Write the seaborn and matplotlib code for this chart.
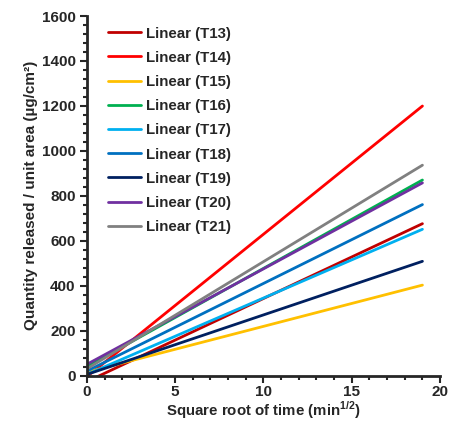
import numpy as np
import pandas as pd
import matplotlib
matplotlib.use('Agg')
import matplotlib.pyplot as plt
from matplotlib.ticker import MultipleLocator
import seaborn as sns

# Fitted linear release lines
series = ['T13', 'T14', 'T15', 'T16', 'T17', 'T18', 'T19', 'T20', 'T21']
slopes = [37.0, 63.4, 20.4, 43.7, 34.0, 39.0, 26.5, 42.5, 47.7]
intercepts = [-27.0, -5.0, 15.0, 40.0, 5.0, 20.0, 5.0, 50.0, 30.0]
x_range = [0, 19]
colors = ['#C00000', '#FF0000', '#FFC000', '#00B050', '#00B0F0',
          '#0070C0', '#002060', '#7030A0', '#808080']

sns.set_style('ticks')
plt.rcParams['font.family'] = ['Liberation Sans', 'DejaVu Sans']
plt.rcParams['font.weight'] = 'bold'
plt.rcParams['mathtext.fontset'] = 'custom'
plt.rcParams['mathtext.rm'] = 'Liberation Sans:bold'
plt.rcParams['mathtext.bf'] = 'Liberation Sans:bold'

# Building long table
rows = []
for s, m, b in zip(series, slopes, intercepts):
    for x in x_range:
        rows.append({'x': x, 'y': m * x + b, 'name': 'Linear (' + s + ')'})
df = pd.DataFrame(rows)

fig = plt.figure(figsize=(4.5, 4.22), dpi=100)
ax = fig.add_axes([0.193, 0.11, 0.785, 0.852])

sns.lineplot(data=df, x='x', y='y', hue='name',
             palette=dict(zip(df['name'].unique(), colors)),
             linewidth=2, ax=ax)

ax.set_xlim(0, 20)
ax.set_ylim(0, 1600)
ax.xaxis.set_major_locator(MultipleLocator(5))
ax.xaxis.set_minor_locator(MultipleLocator(1))
ax.yaxis.set_major_locator(MultipleLocator(200))
ax.yaxis.set_minor_locator(MultipleLocator(40))
ax.tick_params(which='major', length=5, width=1.5, labelsize=11, pad=3)
ax.tick_params(axis='x', which='major', pad=2)
ax.tick_params(which='minor', length=3, width=1.5)
for side in ['left', 'bottom']:
    ax.spines[side].set_linewidth(2)
sns.despine(ax=ax)

ax.set_xlabel('Square root of time (min$^{1/2}$)', fontsize=10.8, fontweight='bold', labelpad=0)
ax.set_ylabel('Quantity released / unit area (µg/cm²)', fontsize=11, fontweight='bold', labelpad=3)

leg = ax.legend(loc='upper left', frameon=False, fontsize=10.8, handlelength=2.2,
                handletextpad=0.35, labelspacing=0.68,
                bbox_to_anchor=(0.03, 1.0), borderaxespad=0.3)
for line in leg.get_lines():
    line.set_linewidth(2)

fig.savefig('out.png', dpi=100)
